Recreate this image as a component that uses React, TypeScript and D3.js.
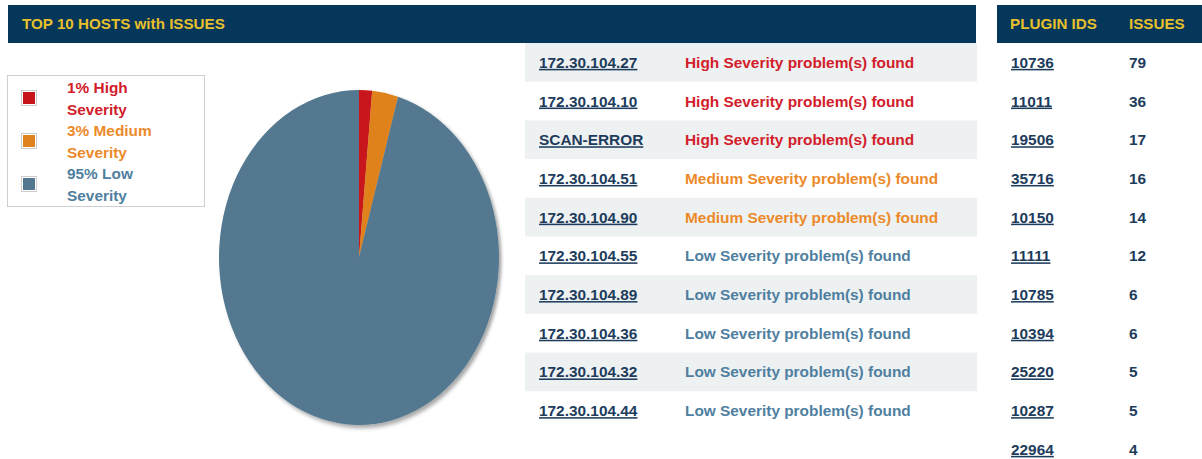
import React from 'react';
import * as d3 from 'd3';

const severityLabels = ['1% High', '3% Medium', '95% Low'];
const severityShares = [1.5, 3, 95.5];
const severityColors = ['#c8141b', '#e0821e', '#52788f'];
const statusColors = ['#d2202b', '#ec8a2a', '#4f7fa0'];

const hosts = [
    '172.30.104.27', '172.30.104.10', 'SCAN-ERROR', '172.30.104.51', '172.30.104.90',
    '172.30.104.55', '172.30.104.89', '172.30.104.36', '172.30.104.32', '172.30.104.44',
];
const hostSeverity = [0, 0, 0, 1, 1, 2, 2, 2, 2, 2];
const severityNames = ['High', 'Medium', 'Low'];

const pluginIds = ['10736', '11011', '19506', '35716', '10150', '11111', '10785', '10394', '25220', '10287', '22964'];
const pluginIssues = [79, 36, 17, 16, 14, 12, 6, 6, 5, 5, 4];

const W = 1202;
const H = 459;
const navy = '#04375a';
const gold = '#e8c02c';
const ink = '#1d3c5c';
const font = 'Liberation Sans, Arial, sans-serif';
const bodySize = 15.4;

const App: React.FC = () => {
    // rows share one band scale (hosts + plugins)
    const rowY = d3.scaleBand<number>()
        .domain(d3.range(pluginIds.length))
        .range([43, 43 + 38.7 * pluginIds.length])
        .padding(0);

    // pie drawn as circle then squashed into an ellipse
    const cx = 359, cy = 257.5, rx = 140, ry = 167.5;
    const pie = d3.pie<number>().sort(null).value(d => d);
    const arcs = pie(severityShares);
    const arc = d3.arc<d3.PieArcDatum<number>>().innerRadius(0).outerRadius(ry);

    const legendY = d3.scaleLinear().domain([0, 1]).range([98, 141]);

    return (
        <svg width={W} height={H} style={{ position: 'absolute', left: 0, top: 0, fontFamily: font }}>
            <defs>
                <filter id="pieShadow" x="-10%" y="-10%" width="125%" height="125%">
                    <feDropShadow dx="3" dy="3" stdDeviation="2" floodColor="#000" floodOpacity="0.35" />
                </filter>
            </defs>

            {/* header bars */}
            <rect x={8} y={5} width={968} height={38} fill={navy} />
            <text x={22} y={28.5} fill={gold} fontSize={15.2} fontWeight="bold">TOP 10 HOSTS with ISSUES</text>
            <rect x={997} y={5} width={205} height={38} fill={navy} />
            <text x={1010} y={28.5} fill={gold} fontSize={15.2} fontWeight="bold">PLUGIN IDS</text>
            <text x={1129} y={28.5} fill={gold} fontSize={15.2} fontWeight="bold">ISSUES</text>

            {/* legend */}
            <rect x={7.5} y={75.5} width={197} height={131} fill="#fff" stroke="#cfcfcf" strokeWidth={1} />
            {severityLabels.map((lab, i) => (
                <g key={lab}>
                    <rect x={21.5} y={legendY(i) - 7.5} width={15} height={15} fill="#fff" stroke="#cccccc" />
                    <rect x={23} y={legendY(i) - 6} width={12} height={12} fill={severityColors[i]} />
                    <text x={67} y={legendY(i) - 5} fill={statusColors[i]} fontSize={bodySize} fontWeight="bold">{lab}</text>
                    <text x={67} y={legendY(i) + 16.5} fill={statusColors[i]} fontSize={bodySize} fontWeight="bold">Severity</text>
                </g>
            ))}

            {/* pie */}
            <g transform={`translate(${cx},${cy}) scale(${rx / ry},1)`} filter="url(#pieShadow)">
                {arcs.map((a, i) => (
                    <path key={i} d={arc(a) || ''} fill={severityColors[i]} />
                ))}
            </g>

            {/* hosts table */}
            {hosts.map((h, i) => {
                const y = rowY(i) as number;
                const mid = y + rowY.bandwidth() / 2;
                const sev = hostSeverity[i];
                return (
                    <g key={h}>
                        {i % 2 === 0 && <rect x={525} y={y} width={452} height={rowY.bandwidth()} fill="#eef1f2" />}
                        <text x={539} y={mid + 5.5} fill={ink} fontSize={bodySize} fontWeight="bold"
                            style={{ textDecoration: 'underline' }}>{h}</text>
                        <text x={685} y={mid + 5.5} fill={statusColors[sev]} fontSize={bodySize} fontWeight="bold">
                            {`${severityNames[sev]} Severity problem(s) found`}
                        </text>
                    </g>
                );
            })}

            {/* plugins table */}
            {pluginIds.map((p, i) => {
                const mid = (rowY(i) as number) + rowY.bandwidth() / 2;
                return (
                    <g key={p}>
                        <text x={1011} y={mid + 5.5} fill={ink} fontSize={bodySize} fontWeight="bold"
                            style={{ textDecoration: 'underline' }}>{p}</text>
                        <text x={1129} y={mid + 5.5} fill={ink} fontSize={bodySize} fontWeight="bold">{pluginIssues[i]}</text>
                    </g>
                );
            })}
        </svg>
    );
};

export default App;
